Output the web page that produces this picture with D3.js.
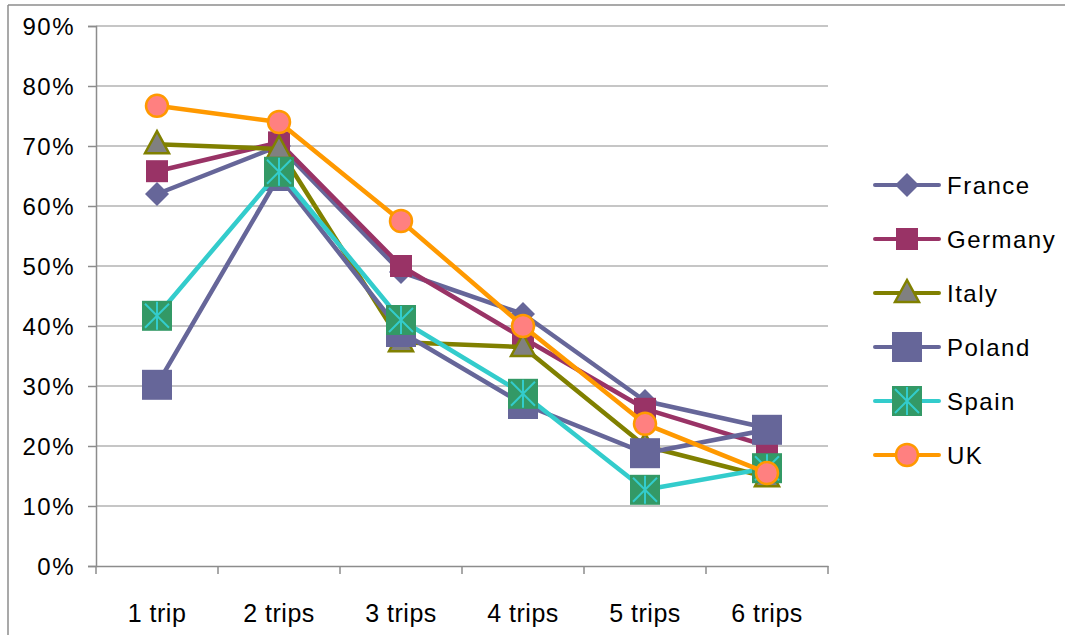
<!DOCTYPE html>
<html>
<head>
<meta charset="utf-8">
<script src="https://cdn.jsdelivr.net/npm/d3@7"></script>
<style>
  body { margin: 0; background: #fff; }
  svg { display: block; font-family: "Liberation Sans", Arial, sans-serif; }
</style>
</head>
<body>
<svg></svg>
<script>
const width = 1065, height = 635;

// categories and series (share of respondents)
const trips = ["1 trip", "2 trips", "3 trips", "4 trips", "5 trips", "6 trips"];
const france  = [0.62, 0.70, 0.49, 0.42, 0.275, 0.23];
const germany = [0.658, 0.706, 0.50, 0.38, 0.262, 0.20];
const italy   = [0.703, 0.695, 0.373, 0.365, 0.20, 0.148];
const poland  = [0.302, 0.65, 0.39, 0.27, 0.188, 0.227];
const spain   = [0.417, 0.657, 0.41, 0.287, 0.127, 0.163];
const uk      = [0.767, 0.74, 0.575, 0.40, 0.237, 0.155];
const yTicks = [0, 0.1, 0.2, 0.3, 0.4, 0.5, 0.6, 0.7, 0.8, 0.9];

const series = [
  {name: "France",  values: france,  line: "#666699", marker: "diamond"},
  {name: "Germany", values: germany, line: "#993366", marker: "square"},
  {name: "Italy",   values: italy,   line: "#808000", marker: "triangle"},
  {name: "Poland",  values: poland,  line: "#666699", marker: "bigsquare"},
  {name: "Spain",   values: spain,   line: "#33CCCC", marker: "star"},
  {name: "UK",      values: uk,      line: "#FF9900", marker: "circle"}
];

const svg = d3.select("svg").attr("width", width).attr("height", height);

// outer frame (top and left edges only visible)
svg.append("line").attr("x1", 8).attr("x2", width).attr("y1", 5).attr("y2", 5)
  .attr("stroke", "#8c8c8c").attr("stroke-width", 1.5);
svg.append("line").attr("x1", 8).attr("x2", 8).attr("y1", 5).attr("y2", height)
  .attr("stroke", "#8c8c8c").attr("stroke-width", 1.5);

const plot = {left: 96, right: 828, top: 26, bottom: 566};

const x = d3.scaleBand().domain(trips).range([plot.left, plot.right]);
const y = d3.scaleLinear().domain([0, 0.9]).range([plot.bottom, plot.top]);

// gridlines
svg.append("g").selectAll("line").data(yTicks.slice(1)).join("line")
  .attr("x1", plot.left).attr("x2", plot.right)
  .attr("y1", d => y(d)).attr("y2", d => y(d))
  .attr("stroke", "#b3b3b3").attr("stroke-width", 1.5);

// y axis
const yAxis = svg.append("g").attr("transform", `translate(${plot.left},0)`)
  .call(d3.axisLeft(y).tickValues(yTicks).tickFormat(d3.format(".0%")).tickSize(8).tickPadding(13));
yAxis.select(".domain").attr("stroke", "#8c8c8c").attr("stroke-width", 1.5);
yAxis.selectAll(".tick line").attr("stroke", "#8c8c8c").attr("stroke-width", 1.5);
yAxis.selectAll("text").attr("font-size", 24).attr("fill", "#000")
  .attr("font-family", "Liberation Sans, Arial, sans-serif")
  .attr("dy", "0.36em")
  .style("letter-spacing", "1.5px");

// x axis
const xAxis = svg.append("g").attr("transform", `translate(0,${plot.bottom})`)
  .call(d3.axisBottom(x).tickSize(0).tickPadding(38));
xAxis.select(".domain").attr("stroke", "#8c8c8c").attr("stroke-width", 1.5);
xAxis.selectAll("text").attr("font-size", 25).attr("fill", "#000")
  .attr("font-family", "Liberation Sans, Arial, sans-serif")
  .style("letter-spacing", "0.5px");
// category boundary ticks
xAxis.append("g").selectAll("line")
  .data(trips.map(t => x(t)).concat([plot.right])).join("line")
  .attr("x1", d => d).attr("x2", d => d).attr("y1", 0).attr("y2", 8)
  .attr("stroke", "#8c8c8c").attr("stroke-width", 1.5);

const cx = (i) => x(trips[i]) + x.bandwidth() / 2;

function drawMarker(g, kind) {
  if (kind === "diamond") {
    g.append("path").attr("d", "M0,-12L12,0L0,12L-12,0Z").attr("fill", "#666699");
  } else if (kind === "square") {
    g.append("rect").attr("x", -11).attr("y", -11).attr("width", 22).attr("height", 22).attr("fill", "#993366");
  } else if (kind === "triangle") {
    g.append("path").attr("d", "M0,-13L12,9L-12,9Z").attr("fill", "#808080")
      .attr("stroke", "#808000").attr("stroke-width", 2.5);
  } else if (kind === "bigsquare") {
    g.append("rect").attr("x", -15).attr("y", -15).attr("width", 30).attr("height", 30).attr("fill", "#666699");
  } else if (kind === "star") {
    g.append("rect").attr("x", -15).attr("y", -15).attr("width", 30).attr("height", 30).attr("fill", "#339966");
    g.append("path").attr("d", "M-12,-12L12,12M12,-12L-12,12M0,-14L0,14")
      .attr("stroke", "#33CCCC").attr("stroke-width", 2);
  } else if (kind === "circle") {
    g.append("circle").attr("r", 11).attr("fill", "#FF8080")
      .attr("stroke", "#FF9900").attr("stroke-width", 2.5);
  }
}

const line = d3.line().x((d, i) => cx(i)).y(d => y(d));

series.forEach(s => {
  const g = svg.append("g");
  g.append("path").attr("d", line(s.values)).attr("fill", "none")
    .attr("stroke", s.line).attr("stroke-width", 4.5).attr("stroke-linejoin", "round");
  s.values.forEach((v, i) => {
    const m = g.append("g").attr("transform", `translate(${cx(i)},${y(v)})`);
    drawMarker(m, s.marker);
  });
});

// legend
const legend = svg.append("g");
series.forEach((s, i) => {
  const ly = 185 + i * 54;
  const row = legend.append("g").attr("transform", `translate(0,${ly})`);
  row.append("line").attr("x1", 875).attr("x2", 939).attr("y1", 0).attr("y2", 0)
    .attr("stroke", s.line).attr("stroke-width", 4).attr("stroke-linecap", "round");
  const m = row.append("g").attr("transform", "translate(907,0)");
  drawMarker(m, s.marker);
  row.append("text").attr("x", 947).attr("y", 9).attr("font-size", 24)
    .style("letter-spacing", "1.5px").text(s.name);
});
</script>
</body>
</html>
